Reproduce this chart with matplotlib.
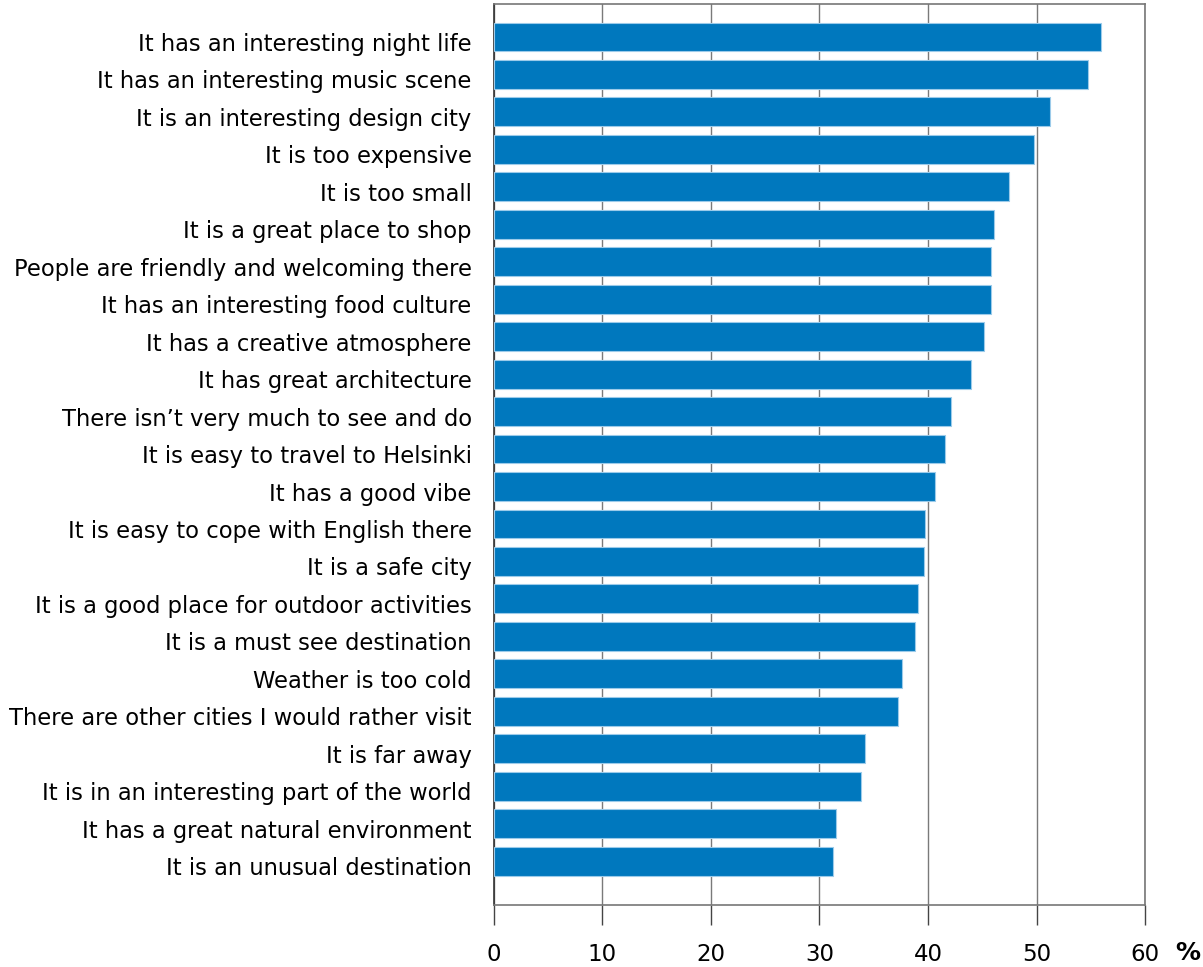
import numpy as np
import matplotlib.pyplot as plt
import matplotlib.transforms as mtransforms

labels = [
    "It has an interesting night life",
    "It has an interesting music scene",
    "It is an interesting design city",
    "It is too expensive",
    "It is too small",
    "It is a great place to shop",
    "People are friendly and welcoming there",
    "It has an interesting food culture",
    "It has a creative atmosphere",
    "It has great architecture",
    "There isn\u2019t very much to see and do",
    "It is easy to travel to Helsinki",
    "It has a good vibe",
    "It is easy to cope with English there",
    "It is a safe city",
    "It is a good place for outdoor activities",
    "It is a must see destination",
    "Weather is too cold",
    "There are other cities I would rather visit",
    "It is far away",
    "It is in an interesting part of the world",
    "It has a great natural environment",
    "It is an unusual destination",
]
values = [55.9, 54.7, 51.2, 49.8, 47.5, 46.1, 45.8, 45.8, 45.2, 44.0,
          42.1, 41.6, 40.6, 39.7, 39.6, 39.1, 38.8, 37.6, 37.2, 34.2,
          33.8, 31.5, 31.2]
xticks = [0, 10, 20, 30, 40, 50, 60]

fig = plt.figure(figsize=(12.03, 9.67), dpi=100)
ax = fig.add_axes([0.4106, 0.0641, 0.9518 - 0.4106, 0.9959 - 0.0641])

y = np.arange(len(labels))
ax.barh(y, values, height=0.77, color="#0078be", edgecolor="#9ccbea",
        linewidth=0.8, zorder=3)

ax.set_xlim(0, 60)
ax.set_ylim(len(labels) - 1 + 1.17, -0.88)
ax.set_xticks(xticks)
ax.set_yticks(y)
ax.set_yticklabels(labels, fontsize=16.3)
ax.tick_params(axis="y", length=0, pad=16)
ax.tick_params(axis="x", length=14.5, width=1, color="#444444",
               labelsize=16.5, pad=13)
ax.xaxis.grid(True, color="#7a7a7a", linewidth=1, zorder=0)

# labels sit slightly below the bar centres in the original
shift = mtransforms.ScaledTranslation(0, -5 / 100, fig.dpi_scale_trans)
for lab in ax.get_yticklabels():
    lab.set_transform(lab.get_transform() + shift)

for side in ["top", "right", "bottom"]:
    ax.spines[side].set_color("#777777")
    ax.spines[side].set_linewidth(1.2)
ax.spines["left"].set_color("#333333")
ax.spines["left"].set_linewidth(1.2)

ax.text(1.046, -0.053, "%", transform=ax.transAxes, fontsize=18,
        fontweight="bold", ha="left", va="center")

fig.savefig("out.png", dpi=100)
